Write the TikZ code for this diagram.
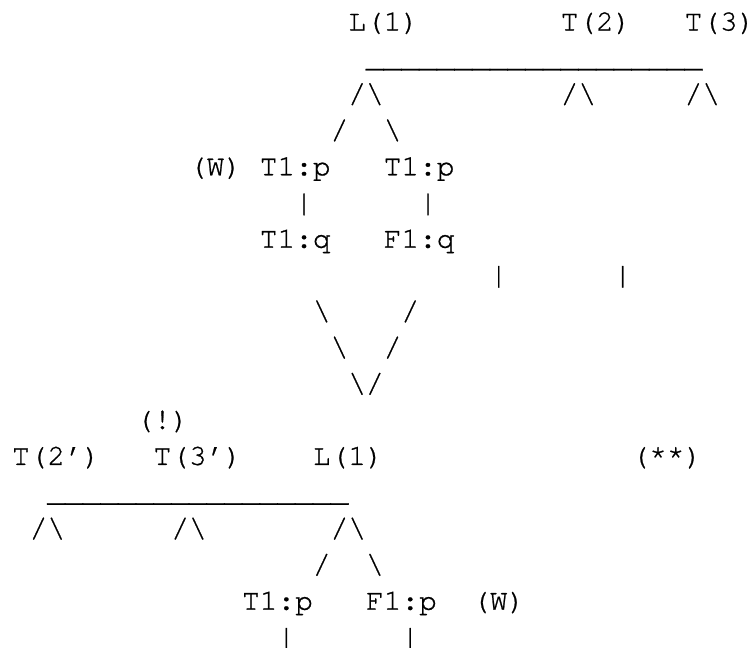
\documentclass[tikz,border=0pt]{standalone}
\usepackage{fontspec}
\newfontfamily\cursorfont{TeX Gyre Cursor}[FakeBold=0.8]
\tikzset{txt/.style={anchor=base west, inner sep=0pt, outer sep=0pt, text=black,
  font={\fontsize{29.5pt}{35pt}\cursorfont}}}
% #1 name, #2 column, #3 row, #4 text
\newcommand\asc[4]{\node[txt] (#1) at (12pt+#2*17.7pt, -30.5pt-#3*36.2pt) {#4};}
\newcommand\bs{\textbackslash}
\begin{document}
\begin{tikzpicture}
\useasboundingbox (0,0) rectangle (750pt,-648pt);
% upper tree
\asc{La}{19}{0}{L(1)}
\asc{Ta}{31}{0}{T(2)}
\asc{Tb}{38}{0}{T(3)}
\asc{ua}{20}{1}{\_\_\_\_\_\_\_\_\_\_\_\_\_\_\_\_\_\_\_}
\asc{ra}{19}{2}{/\bs}
\asc{rb}{31}{2}{/\bs}
\asc{rc}{38}{2}{/\bs}
\asc{sa}{18}{3}{/}
\asc{sb}{21}{3}{\bs}
\asc{wa}{10}{4}{(W)}
\asc{pa}{14}{4}{T1:p}
\asc{pb}{21}{4}{T1:p}
\asc{va}{16}{5}{|}
\asc{vb}{23}{5}{|}
\asc{qa}{14}{6}{T1:q}
\asc{qb}{21}{6}{F1:q}
\asc{vc}{27}{7}{|}
\asc{vd}{34}{7}{|}
\asc{da}{17}{8}{\bs}
\asc{db}{22}{8}{/}
\asc{dc}{18}{9}{\bs}
\asc{dd}{21}{9}{/}
\asc{de}{19}{10}{\bs/}
% lower tree
\asc{ex}{7}{11}{(!)}
\asc{Tc}{0}{12}{T(2’)}
\asc{Td}{8}{12}{T(3’)}
\asc{Lb}{17}{12}{L(1)}
\asc{st}{35}{12}{(**)}
\asc{ub}{2}{13}{\_\_\_\_\_\_\_\_\_\_\_\_\_\_\_\_\_}
\asc{rd}{1}{14}{/\bs}
\asc{re}{9}{14}{/\bs}
\asc{rf}{18}{14}{/\bs}
\asc{sc}{17}{15}{/}
\asc{sd}{20}{15}{\bs}
\asc{pc}{13}{16}{T1:p}
\asc{pd}{20}{16}{F1:p}
\asc{wb}{26}{16}{(W)}
\asc{ve}{15}{17}{|}
\asc{vf}{22}{17}{|}
\end{tikzpicture}
\end{document}
